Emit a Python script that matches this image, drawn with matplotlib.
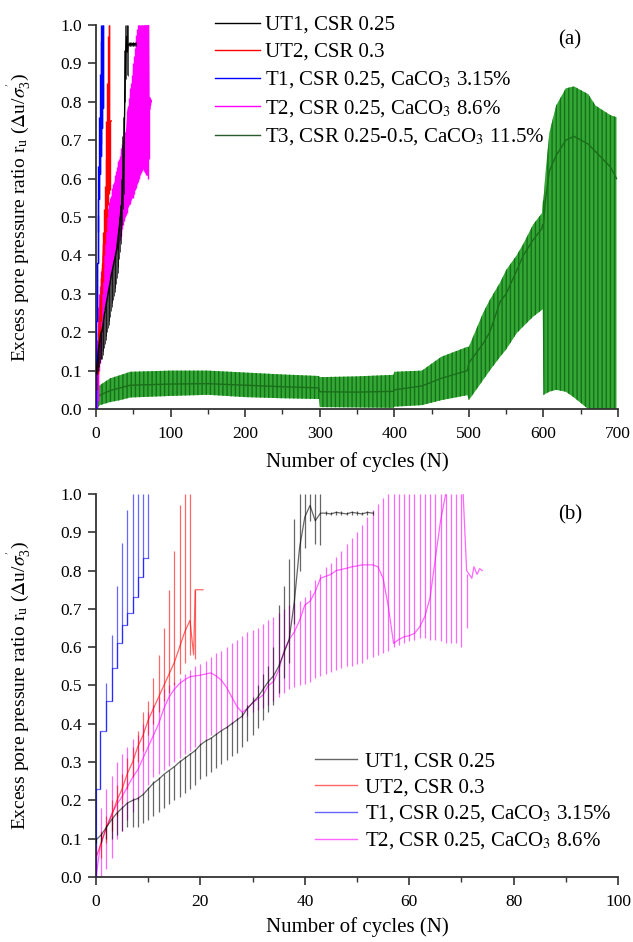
import matplotlib
matplotlib.use('Agg')
import matplotlib.pyplot as plt
from matplotlib.lines import Line2D
from matplotlib.ticker import MultipleLocator, FormatStrFormatter

plt.rcParams['font.family'] = ['Liberation Serif', 'DejaVu Serif']
plt.rcParams['mathtext.fontset'] = 'stix'
plt.rcParams['hatch.linewidth'] = 1.0

# ---------------- data ----------------
labels = ['UT1, CSR 0.25', 'UT2, CSR 0.3', 'T1, CSR 0.25, CaCO$_3$ 3.15%',
          'T2, CSR 0.25, CaCO$_3$ 8.6%', 'T3, CSR 0.25-0.5, CaCO$_3$ 11.5%']

# UT1 (black): per-cycle trace, spike lows and spike highs
UT1_N = [0, 1, 2, 3, 4, 5, 6, 7, 8, 9, 10, 11, 12, 13, 14, 15, 16, 17, 18, 19,
         20, 21, 22, 23, 24, 25, 26, 27, 28, 29, 30, 31, 32, 33, 34, 35, 36, 37,
         38, 39, 40, 41, 42, 43, 44, 45, 46, 47, 48, 49, 50, 51, 52, 53]
UT1_mean = [0.097, 0.11, 0.13, 0.15, 0.167, 0.18, 0.193, 0.2, 0.205, 0.215, 0.23,
            0.245, 0.255, 0.268, 0.278, 0.288, 0.30, 0.31, 0.32, 0.33, 0.345, 0.355,
            0.362, 0.372, 0.382, 0.39, 0.40, 0.41, 0.42, 0.44, 0.455, 0.47, 0.49,
            0.51, 0.525, 0.55, 0.585, 0.62, 0.72, 0.86, 0.94, 0.97, 0.93, 0.95,
            0.95, 0.948, 0.952, 0.95, 0.948, 0.952, 0.95, 0.948, 0.952, 0.95]
UT1_lo = [0.09, 0.09, 0.10, 0.10, 0.11, 0.12, 0.13, 0.13, 0.13, 0.14, 0.15, 0.16,
          0.17, 0.18, 0.19, 0.20, 0.21, 0.22, 0.23, 0.24, 0.255, 0.265, 0.275, 0.285,
          0.295, 0.305, 0.315, 0.325, 0.34, 0.355, 0.37, 0.39, 0.41, 0.43, 0.45, 0.48,
          0.52, 0.56, 0.66, 0.80, 0.86, 0.93, 0.87, 0.866,
          0.945, 0.944, 0.946, 0.945, 0.944, 0.946, 0.945, 0.944, 0.946, 0.945]
UT1_hi = [0.10, 0.115, 0.135, 0.155, 0.17, 0.185, 0.195, 0.205, 0.21, 0.22, 0.235,
          0.25, 0.26, 0.27, 0.28, 0.29, 0.305, 0.315, 0.325, 0.335, 0.35, 0.36, 0.365,
          0.375, 0.385, 0.395, 0.405, 0.415, 0.43, 0.45, 0.47, 0.50, 0.53, 0.55, 0.60,
          0.71, 0.76, 0.83, 0.935, 1.0, 1.0, 1.0, 1.0, 1.0,
          0.955, 0.954, 0.956, 0.955, 0.954, 0.956, 0.955, 0.954, 0.956, 0.955]

# UT2 (red)
UT2_N = [0, 1, 2, 3, 4, 5, 6, 7, 8, 9, 10, 11, 12, 13, 14, 15, 16, 17, 18, 19]
UT2_lo = [0.0, 0.05, 0.09, 0.12, 0.16, 0.19, 0.23, 0.26, 0.30, 0.33, 0.37, 0.40,
          0.43, 0.46, 0.48, 0.50, 0.53, 0.56, 0.58, 0.57]
UT2_hi = [0.08, 0.12, 0.16, 0.20, 0.24, 0.27, 0.31, 0.34, 0.38, 0.43, 0.46, 0.52,
          0.58, 0.65, 0.75, 0.85, 0.97, 1.0, 1.0, 0.75]
UT2_trace_N = [0, 1, 2, 3, 4, 5, 6, 7, 8, 9, 10, 11, 12, 13, 14, 15, 16, 17, 18,
               18.7, 19, 20.5]
UT2_trace = [0.05, 0.09, 0.13, 0.16, 0.20, 0.23, 0.27, 0.30, 0.34, 0.37, 0.41, 0.44,
             0.47, 0.50, 0.53, 0.56, 0.60, 0.64, 0.67, 0.58, 0.75, 0.75]

# T1 (blue): step trace
T1_N = [0, 0.8, 2, 3, 4, 5, 6, 7, 8, 9, 10]
T1_level = [0.23, 0.38, 0.46, 0.546, 0.612, 0.658, 0.69, 0.732, 0.784, 0.833, 0.833]
T1_lo = [0.0, 0.23, 0.38, 0.46, 0.546, 0.612, 0.658, 0.69, 0.732, 0.784, 0.833]
T1_hi = [0.23, 0.38, 0.506, 0.632, 0.76, 0.873, 0.958, 1.0, 1.0, 1.0, 1.0]

# T2 (magenta): per-cycle spikes
T2_N = [1, 2, 3, 4, 5, 6, 7, 8, 9, 10, 11, 12, 13, 14, 15, 16, 17, 18, 19, 20,
        21, 22, 23, 24, 25, 26, 27, 28, 29, 30, 31, 32, 33, 34, 35, 36, 37, 38, 39,
        40, 41, 42, 43, 44, 45, 46, 47, 48, 49, 50, 51, 52, 53, 54, 55, 56, 57, 58,
        59, 60, 61, 62, 63, 64, 65, 66, 67, 68, 69, 70, 71]
T2_lo = [0.0, 0.02, 0.05, 0.10, 0.12, 0.15, 0.17, 0.20, 0.22, 0.24, 0.26, 0.27,
         0.28, 0.29, 0.30, 0.31, 0.32, 0.33, 0.34, 0.35, 0.36, 0.37, 0.375, 0.385,
         0.39, 0.40, 0.41, 0.415, 0.42, 0.43, 0.435, 0.44, 0.45, 0.46, 0.47, 0.48,
         0.49, 0.495, 0.50, 0.505, 0.51, 0.52, 0.525, 0.53, 0.535, 0.54, 0.545, 0.55,
         0.55, 0.555, 0.56, 0.57, 0.575, 0.58, 0.585, 0.59, 0.60, 0.605, 0.61, 0.615,
         0.62, 0.625, 0.625, 0.62, 0.62, 0.615, 0.61, 0.61, 0.61, 0.60, 0.65]
T2_hi = [0.18, 0.23, 0.265, 0.30, 0.32, 0.34, 0.36, 0.37, 0.40, 0.43, 0.45, 0.47,
         0.49, 0.50, 0.51, 0.52, 0.53, 0.54, 0.55, 0.555, 0.565, 0.575, 0.585, 0.59,
         0.60, 0.61, 0.62, 0.63, 0.64, 0.645, 0.65, 0.66, 0.67, 0.68, 0.69, 0.70,
         0.71, 0.715, 0.72, 0.73, 0.75, 0.775, 0.79, 0.81, 0.82, 0.835, 0.85, 0.87,
         0.885, 0.90, 0.92, 0.94, 0.958, 0.975, 0.99, 1.0, 1.0, 1.0, 1.0, 1.0, 1.0,
         1.0, 1.0, 1.0, 1.0, 1.0, 1.0, 1.0, 1.0, 1.0, 0.79]
T2_trace_N = [0, 0.8, 2, 3, 4, 5, 6, 7, 8, 9, 10, 11, 12, 13, 14, 15, 16, 17, 18,
              19, 20, 21, 22, 23, 24, 25, 26, 27, 28, 29, 30, 31, 32, 33, 34, 35, 36,
              37, 38, 39, 40, 41, 42, 43, 44, 45, 46, 47, 48, 49, 50, 51, 52, 53, 54,
              55, 56, 57, 58, 59, 60, 61, 62, 63, 64, 65, 66, 67, 68, 70, 71, 72,
              72.4, 73, 73.5, 74]
T2_trace = [0.0, 0.08, 0.13, 0.165, 0.19, 0.21, 0.235, 0.26, 0.28, 0.31, 0.34, 0.37,
            0.40, 0.44, 0.47, 0.49, 0.505, 0.515, 0.523, 0.525, 0.527, 0.53, 0.533,
            0.525, 0.514, 0.495, 0.47, 0.445, 0.43, 0.44, 0.455, 0.465, 0.475, 0.50,
            0.51, 0.54, 0.59, 0.62, 0.64, 0.67, 0.71, 0.72, 0.745, 0.78, 0.785, 0.79,
            0.80, 0.803, 0.806, 0.81, 0.812, 0.815, 0.815, 0.815, 0.81, 0.78, 0.706,
            0.61, 0.62, 0.627, 0.63, 0.636, 0.653, 0.68, 0.73, 0.83, 0.93, 1.0, 1.1,
            1.1, 0.80, 0.78, 0.81, 0.79, 0.805, 0.80]

# T3 (green): envelope of the cyclic band and mean trace
T3_N = [0, 2, 5, 19, 32, 46, 100, 150, 200, 250, 299, 300, 350, 399, 400, 437,
        463, 498, 500, 519, 528, 542, 550, 564, 573, 586, 598, 599, 600, 603, 608,
        617, 630, 641, 660, 670, 690, 698]
T3_lo = [0.0, 0.002, 0.01, 0.018, 0.023, 0.03, 0.034, 0.037, 0.031, 0.028, 0.026,
         0.005, 0.004, 0.003, 0.006, 0.01, 0.023, 0.036, 0.023, 0.075, 0.10, 0.136,
         0.155, 0.197, 0.215, 0.24, 0.258, 0.26, 0.036, 0.04, 0.045, 0.05, 0.045,
         0.03, 0.0, 0.0, 0.0, 0.0]
T3_hi = [0.05, 0.055, 0.062, 0.08, 0.088, 0.097, 0.10, 0.10, 0.095, 0.09, 0.086,
         0.083, 0.085, 0.089, 0.097, 0.10, 0.136, 0.162, 0.162, 0.25, 0.284, 0.33,
         0.362, 0.40, 0.43, 0.48, 0.51, 0.54, 0.544, 0.62, 0.72, 0.79, 0.835, 0.84,
         0.82, 0.79, 0.765, 0.76]
T3_mean = [0.03, 0.03, 0.036, 0.048, 0.055, 0.062, 0.065, 0.066, 0.062, 0.058,
           0.055, 0.045, 0.044, 0.046, 0.05, 0.06, 0.08, 0.10, 0.12, 0.17, 0.2, 0.28,
           0.30, 0.36, 0.40, 0.44, 0.47, 0.48, 0.48, 0.55, 0.62, 0.66, 0.70, 0.71,
           0.69, 0.67, 0.63, 0.60]

col_ut1, col_ut2, col_t1, col_t2, col_t3 = '#000000', '#ff0000', '#0000ff', '#ff00ff', '#008000'

# ---------------- figure ----------------
fig = plt.figure(figsize=(6.33, 9.42), dpi=100)
axA = fig.add_axes([0.1517, 0.5658, 0.8246, 0.4077])
axB = fig.add_axes([0.1517, 0.0690, 0.8246, 0.4066])


def draw_cyclic(ax, lw, lw_black, alpha):
    ax.vlines(T2_N, T2_lo, T2_hi, color=col_t2, lw=lw, alpha=alpha, zorder=2)
    ax.plot(T2_trace_N, T2_trace, color=col_t2, lw=lw, alpha=alpha, zorder=2)
    ax.vlines(UT2_N, UT2_lo, UT2_hi, color=col_ut2, lw=lw, alpha=alpha, zorder=3)
    ax.plot(UT2_trace_N, UT2_trace, color=col_ut2, lw=lw, alpha=alpha, zorder=3)
    ax.vlines(T1_N, T1_lo, T1_hi, color=col_t1, lw=lw, alpha=alpha, zorder=3)
    ax.plot(T1_N, T1_level, color=col_t1, lw=lw, alpha=alpha, drawstyle='steps-post', zorder=3)
    ax.vlines(UT1_N, UT1_lo, UT1_hi, color=col_ut1, lw=lw_black, alpha=alpha, zorder=4)
    ax.plot(UT1_N, UT1_mean, color=col_ut1, lw=lw, alpha=alpha, zorder=4)


# panel (a)
axA.fill_between(T3_N, T3_lo, T3_hi, facecolor='#34a834', edgecolor='#15701a',
                 hatch='||||', lw=0, zorder=1)
axA.plot(T3_N, T3_mean, color='#1a6e1a', lw=1.0, zorder=1.5)
draw_cyclic(axA, 1.0, 0.5, 1.0)

# panel (b)
draw_cyclic(axB, 0.9, 0.9, 0.6)

for ax, xmax, major, minor in [(axA, 700, 100, 50), (axB, 100, 20, 10)]:
    ax.set_xlim(0, xmax)
    ax.set_ylim(0, 1.0)
    ax.xaxis.set_major_locator(MultipleLocator(major))
    ax.xaxis.set_minor_locator(MultipleLocator(minor))
    ax.yaxis.set_major_locator(MultipleLocator(0.1))
    ax.yaxis.set_major_formatter(FormatStrFormatter('%.1f'))
    for s in ['top', 'right']:
        ax.spines[s].set_visible(False)
    for s in ['left', 'bottom']:
        ax.spines[s].set_linewidth(1.3)
        ax.spines[s].set_color('#333333')
    ax.tick_params(which='major', direction='out', length=6, width=1.2,
                   labelsize=12.5, color='#333333', pad=4)
    ax.tick_params(which='minor', direction='out', length=3.5, width=1.0, color='#333333')
    ax.tick_params(axis='x', which='major', pad=6)
    ax.set_xlabel('Number of cycles (N)', fontsize=15)
    ax.set_ylabel(r"Excess pore pressure ratio r$_\mathregular{u}$ ($\Delta$u/$\sigma^{'}_\mathregular{3}$)",
                  fontsize=14)
    ax.yaxis.set_label_coords(-0.118, 0.5)

axA.xaxis.set_label_coords(0.5, -0.112)
axB.xaxis.set_label_coords(0.5, -0.104)

# legends
hA = [Line2D([], [], color=c, lw=1.0) for c in [col_ut1, col_ut2, col_t1, col_t2, '#2a5a2a']]
axA.legend(hA, labels, loc='upper left', bbox_to_anchor=(0.228, 1.025), frameon=False,
           fontsize=15, handlelength=2.16, handletextpad=0.25, labelspacing=0.36,
           borderpad=0, borderaxespad=0)
hB = [Line2D([], [], color=c, lw=1.0, alpha=0.6) for c in [col_ut1, col_ut2, col_t1, col_t2]]
axB.legend(hB, labels[:4], loc='upper left', bbox_to_anchor=(0.42, 0.327), frameon=False,
           fontsize=15, handlelength=2.0, handletextpad=0.4, labelspacing=0.3,
           borderpad=0, borderaxespad=0)

axA.text(0.908, 0.961, '(a)', transform=axA.transAxes, fontsize=15, ha='center', va='center')
axB.text(0.908, 0.945, '(b)', transform=axB.transAxes, fontsize=15, ha='center', va='center')

fig.savefig('out.png', dpi=100)
